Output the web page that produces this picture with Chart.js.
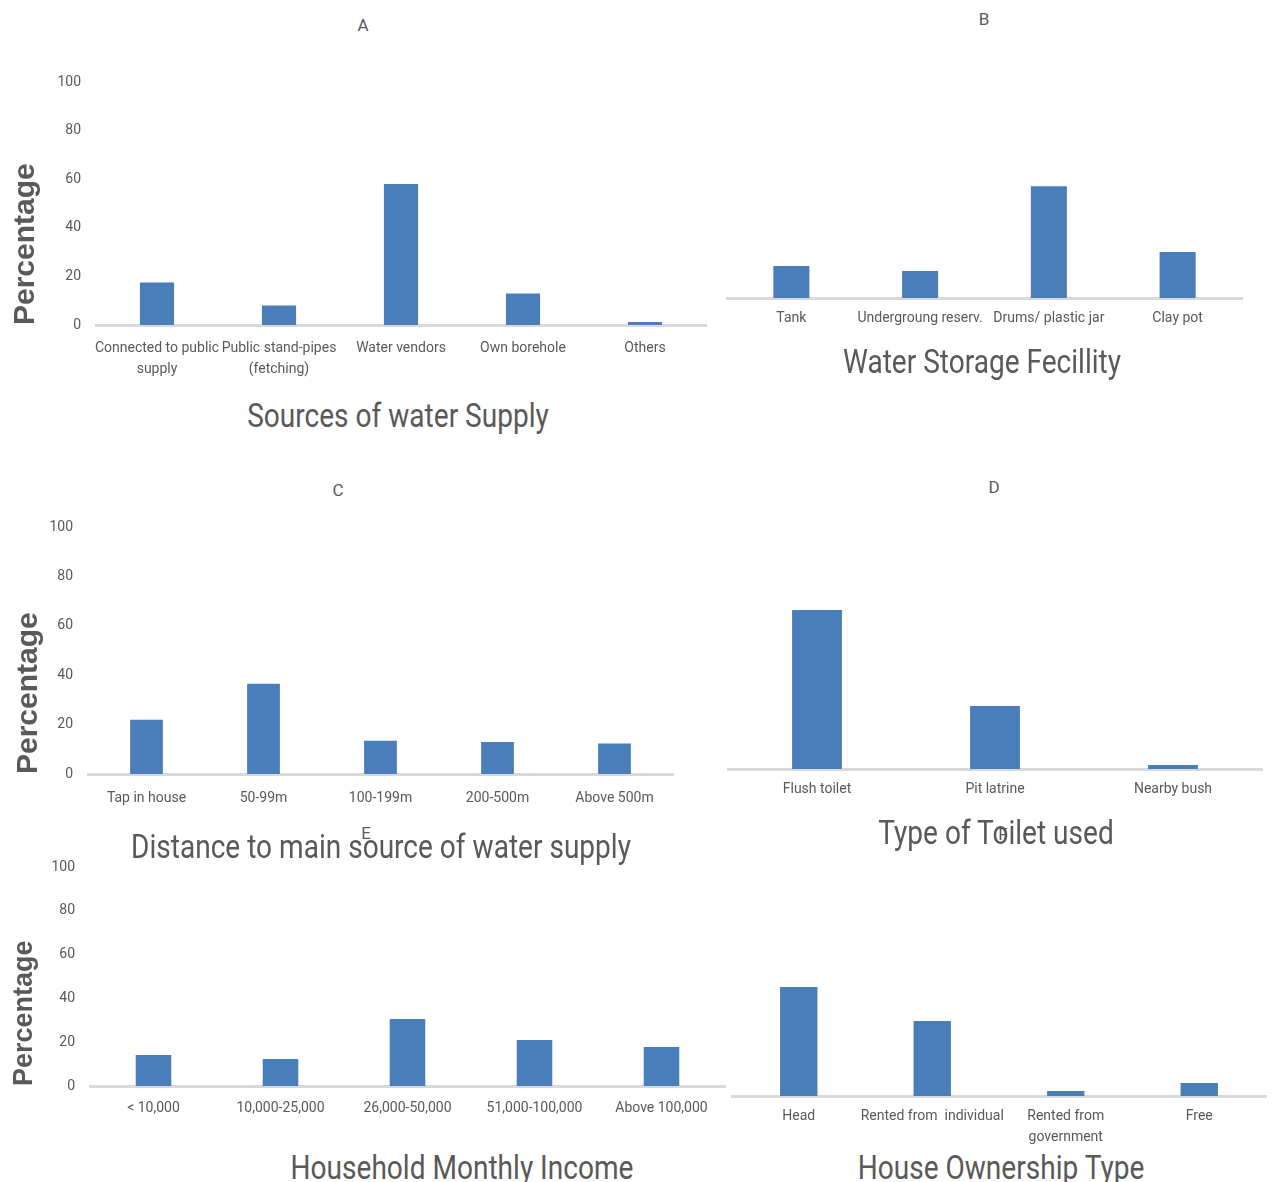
<!DOCTYPE html>
<html>
<head>
<meta charset="utf-8">
<script src="https://cdn.jsdelivr.net/npm/chart.js@4.4.1/dist/chart.umd.min.js"></script>
<style>
  body { margin: 0; background: #fff; width: 1272px; height: 1182px; position: relative; overflow: hidden;
         font-family: 'Roboto', sans-serif; color: #595959; }
  canvas { position: absolute; }
  .letter { position: absolute; font-size: 17px; transform: translate(-50%, -50%); }
  .title { position: absolute; font-size: 33px; white-space: nowrap; transform: translate(-50%, -50%) scaleX(0.85); }
</style>
</head>
<body>
<canvas id="chartA" width="720" height="330" style="left:0px;top:60px"></canvas>
<canvas id="chartB" width="552" height="310" style="left:720px;top:40px"></canvas>
<canvas id="chartC" width="700" height="320" style="left:0px;top:500px"></canvas>
<canvas id="chartD" width="552" height="320" style="left:720px;top:500px"></canvas>
<canvas id="chartE" width="730" height="285" style="left:0px;top:855px"></canvas>
<canvas id="chartF" width="552" height="290" style="left:720px;top:855px"></canvas>

<div class="letter" style="left:363px;top:25px">A</div>
<div class="letter" style="left:984px;top:19px">B</div>
<div class="letter" style="left:338px;top:490px">C</div>
<div class="letter" style="left:994px;top:487px">D</div>
<div class="title" style="left:398px;top:415px">Sources of water Supply</div>
<div class="title" style="left:982px;top:361px">Water Storage Fecillity</div>
<div class="title" style="left:381px;top:846px">Distance to main source of water supply</div>
<div class="title" style="left:996px;top:832px">Type of Toilet used</div>
<div class="letter" style="left:366px;top:833px">E</div>
<div class="letter" style="left:1003px;top:834px">F</div>
<div class="title" style="left:462px;top:1167px">Household Monthly Income</div>
<div class="title" style="left:1001px;top:1167px">House Ownership Type</div>

<script>
const yTicks = [0, 20, 40, 60, 80, 100];

const sourceLabels = [['Connected to public', 'supply'], ['Public stand-pipes', '(fetching)'], 'Water vendors', 'Own borehole', 'Others'];
const sourceValues = [17.5, 8, 58, 13, 1.2];

const storageLabels = ['Tank', 'Undergroung reserv.', 'Drums/ plastic jar', 'Clay pot'];
const storageValues = [13.2, 11.1, 46, 18.9];

const distanceLabels = ['Tap in house', '50-99m', '100-199m', '200-500m', 'Above 500m'];
const distanceValues = [22, 36.5, 13.5, 13, 12.3];

const toiletLabels = ['Flush toilet', 'Pit latrine', 'Nearby bush'];
const toiletValues = [65.7, 26, 1.7];

const incomeLabels = ['< 10,000', '10,000-25,000', '26,000-50,000', '51,000-100,000', 'Above 100,000'];
const incomeValues = [14.2, 12.3, 30.6, 21, 17.8];

const ownershipLabels = ['Head', 'Rented from  individual', ['Rented from', 'government'], 'Free'];
const ownershipValues = [47.6, 32.8, 2.2, 5.7];

const BAR_COLOR = '#4a7ebb';
const TEXT_COLOR = '#595959';

Chart.defaults.font.family = "'Roboto', sans-serif";
Chart.defaults.font.size = 14;
Chart.defaults.color = TEXT_COLOR;

function drawPanel(id, labels, values, box) {
  new Chart(document.getElementById(id), {
    type: 'bar',
    data: {
      labels: labels,
      datasets: [{ data: values, backgroundColor: BAR_COLOR, barPercentage: 0.28, categoryPercentage: 1 }]
    },
    options: {
      responsive: false,
      animation: false,
      layout: { padding: box.pad },
      plugins: { legend: { display: false }, tooltip: { enabled: false } },
      scales: {
        x: {
          grid: { display: false, drawTicks: false },
          border: { color: '#d9d9d9', width: 3 },
          ticks: { padding: box.xPad, maxRotation: 0, minRotation: 0, autoSkip: false, font: { lineHeight: 1.5 } },
          afterFit: s => { s.height = box.xHeight; }
        },
        y: {
          display: box.yWidth > 0,
          min: 0,
          max: 100,
          afterBuildTicks: s => { s.ticks = yTicks.map(v => ({ value: v })); },
          grid: { display: false, drawTicks: false },
          border: { display: false },
          ticks: { padding: 15 },
          title: {
            display: true,
            text: 'Percentage',
            align: 'start',
            color: TEXT_COLOR,
            padding: { top: 4, bottom: 4 },
            font: { family: "'Liberation Sans', Arial, sans-serif", weight: 'bold', size: box.titleSize || 30 }
          },
          afterFit: s => {
            // keep the plot box where the layout padding puts it
            s.width = box.yWidth;
            s.paddingTop = 0;
            s.paddingBottom = 0;
          }
        }
      }
    }
  });
}

drawPanel('chartA', sourceLabels, sourceValues,
  { pad: { left: 4, top: 22, right: 14, bottom: 0 }, yWidth: 92, xHeight: 65, xPad: 13 });
drawPanel('chartB', storageLabels, storageValues,
  { pad: { left: 7, top: 15, right: 30, bottom: 0 }, yWidth: 0, xHeight: 52, xPad: 10 });
drawPanel('chartC', distanceLabels, distanceValues,
  { pad: { left: 7, top: 27, right: 27, bottom: 0 }, yWidth: 81, xHeight: 46, xPad: 14 });
drawPanel('chartD', toiletLabels, toiletValues,
  { pad: { left: 8, top: 27, right: 10, bottom: 0 }, yWidth: 0, xHeight: 51, xPad: 10 });
drawPanel('chartE', incomeLabels, incomeValues,
  { pad: { left: 4, top: 12, right: 5, bottom: 0 }, yWidth: 86, xHeight: 54, xPad: 12, titleSize: 27 });
drawPanel('chartF', ownershipLabels, ownershipValues,
  { pad: { left: 12, top: 12, right: 6, bottom: 0 }, yWidth: 0, xHeight: 49, xPad: 10 });
</script>
</body>
</html>
